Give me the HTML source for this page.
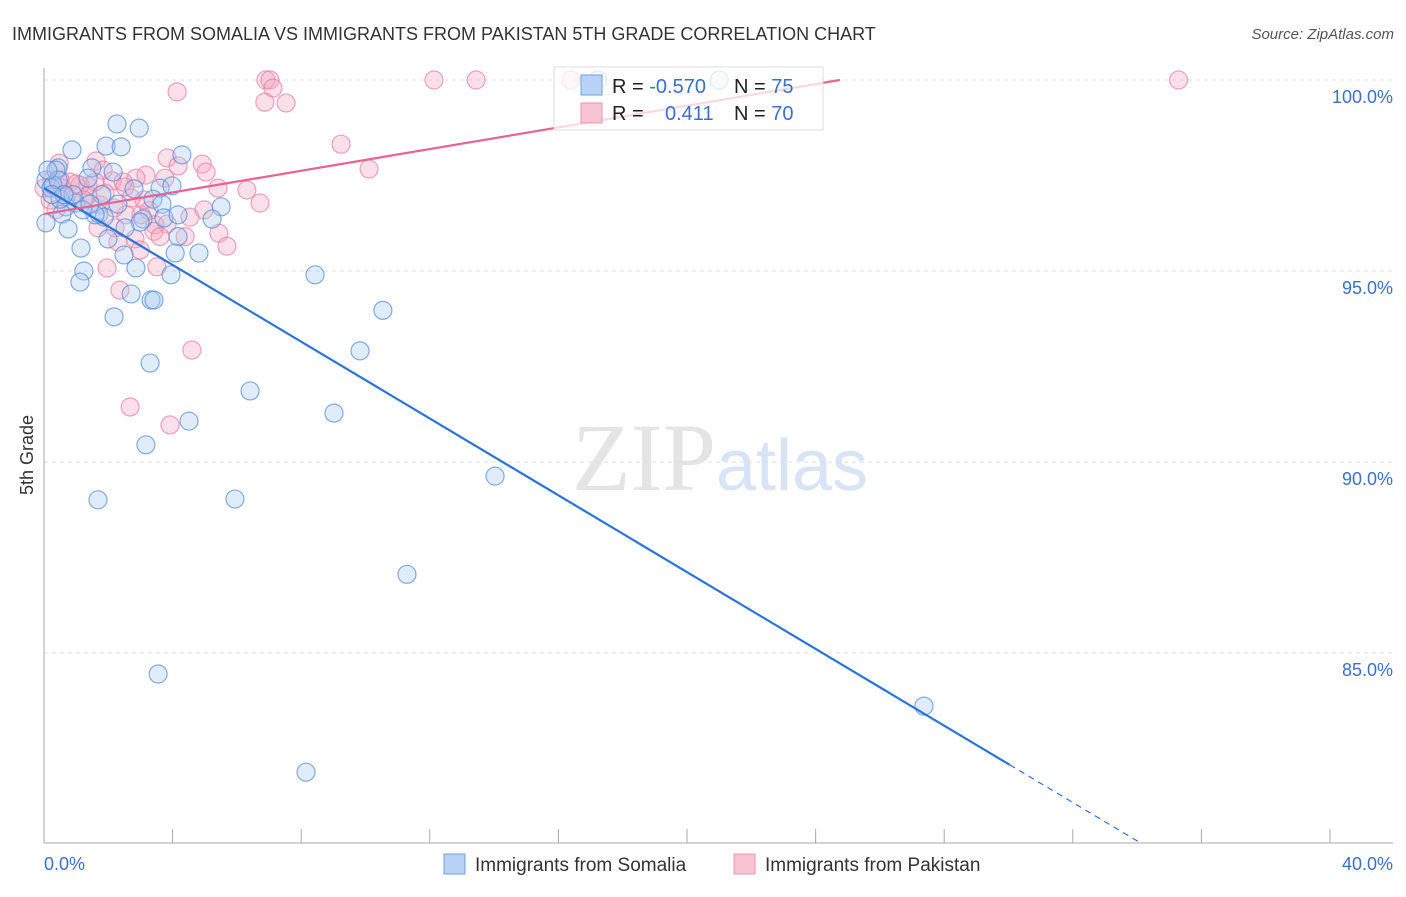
<!DOCTYPE html>
<html><head><meta charset="utf-8"><style>
body{margin:0;background:#fff;width:1406px;height:892px;overflow:hidden;font-family:"Liberation Sans",sans-serif}
</style></head><body>
<svg id="chart" width="1406" height="892" xmlns="http://www.w3.org/2000/svg" font-family="Liberation Sans, sans-serif">
<text x="12" y="40" font-size="18" fill="#333">IMMIGRANTS FROM SOMALIA VS IMMIGRANTS FROM PAKISTAN 5TH GRADE CORRELATION CHART</text>
<text x="1394" y="39" font-size="15" font-style="italic" fill="#555" text-anchor="end">Source: ZipAtlas.com</text>
<text x="720" y="490" font-size="96" text-anchor="middle" font-family="Liberation Serif, serif" fill="#e4e4e4">ZIP<tspan fill="#d6e4f5" font-family="Liberation Sans, sans-serif" font-size="72">atlas</tspan></text>
<g id="grid"></g>
<g id="axes"></g>
<g id="pts"></g>
<g id="trends"></g>
<text transform="translate(33,455) rotate(-90)" font-size="18" fill="#333" text-anchor="middle">5th Grade</text>
<text x="44" y="870" font-size="18" fill="#3a6fd0">0.0%</text>
<text x="1393" y="870" font-size="18" fill="#3a6fd0" text-anchor="end">40.0%</text>
<g>
<rect x="554" y="67" width="269" height="63" fill="#fff" fill-opacity="0.75" stroke="#ddd"/>
<rect x="581" y="75" width="21" height="20" fill="#b8d3f5" stroke="#6a9fe0"/>
<rect x="581" y="103" width="21" height="20" fill="#f9c4d4" stroke="#ec93b0"/>
<text x="612" y="93" font-size="20" fill="#222">R = <tspan fill="#3a6fd0">-0.570</tspan></text>
<text x="734" y="93" font-size="20" fill="#222">N = <tspan fill="#3a6fd0">75</tspan></text>
<text x="612" y="120" font-size="20" fill="#222">R = <tspan fill="#3a6fd0" x="665">0.411</tspan></text>
<text x="734" y="120" font-size="20" fill="#222">N = <tspan fill="#3a6fd0">70</tspan></text>
</g>
<g>
<rect x="444" y="854" width="21" height="20" fill="#b8d3f5" stroke="#6a9fe0"/>
<text x="475" y="871" font-size="19" fill="#333">Immigrants from Somalia</text>
<rect x="734" y="854" width="21" height="20" fill="#f9c4d4" stroke="#ec93b0"/>
<text x="765" y="871" font-size="19" fill="#333">Immigrants from Pakistan</text>
</g>
</svg>
<script>
const yTicks=[100,95,90,85];
const yTickLabels=["100.0%","95.0%","90.0%","85.0%"];
const xTicks=[0,4,8,12,16,20,24,28,32,36,40];
const somaliaX=[17.22,21.0,2.27,2.96,0.87,1.93,2.4,4.29,1.49,2.15,0.44,0.06,1.37,3.61,2.8,0.22,3.98,3.39,2.3,3.67,1.71,0.99,0.68,5.51,5.23,1.87,3.08,3.73,4.17,0.56,0.75,0.06,1.99,4.17,1.15,2.49,4.08,4.82,1.24,2.86,3.95,8.43,1.12,2.71,3.33,3.42,10.54,2.18,3.3,9.83,6.41,9.02,4.51,3.17,1.68,5.94,14.03,11.29,3.55,27.37,8.15,0.37,0.28,0.5,2.99,2.52,1.59,1.8,1.21,0.9,1.43,0.44,0.12,0.62,0.25];
const somaliaY=[100,100,98.85,98.74,98.17,98.27,98.25,98.04,97.7,97.59,97.7,97.38,97.43,97.17,97.15,97.17,97.23,96.88,96.75,96.75,96.49,96.78,96.68,96.68,96.36,96.41,96.36,96.39,96.47,96.49,96.1,96.26,95.84,95.9,95.6,95.42,95.47,95.47,95.0,95.08,94.9,94.9,94.71,94.4,94.24,94.24,93.97,93.8,92.59,92.91,91.86,91.28,91.07,90.45,89.01,89.03,89.63,87.06,84.45,83.61,81.88,97.64,97.25,96.88,96.28,96.13,96.47,97.0,96.6,97.0,96.75,97.38,97.64,97.0,97.0];
const pakistanX=[6.9,7.03,12.13,13.44,16.39,35.29,7.12,6.87,7.53,4.14,9.24,10.11,3.83,4.92,4.17,5.04,3.17,0.47,1.62,0.81,1.37,2.12,2.86,3.76,5.41,6.31,6.72,1.84,2.52,0.19,0,1.12,0.68,1.74,2.55,3.02,3.45,3.83,4.54,5.44,5.69,3.42,2.83,2.3,1.96,3.51,2.36,4.6,2.68,3.92,1.37,0.37,0.56,2.18,3.27,3.61,2.99,1.68,0.99,0.25,1.24,3.11,2.46,4.39,4.98,1.9,1.59,2.21,2.71,0.5];
const pakistanY=[100,100,100,100,100,100,99.79,99.42,99.4,99.69,98.32,97.67,97.96,97.8,97.75,97.59,97.51,97.82,97.88,97.33,97.23,97.36,97.43,97.43,97.17,97.12,96.78,97.64,97.2,96.86,97.17,97.25,96.96,96.73,96.47,96.47,96.21,96.23,96.41,95.99,95.65,96.04,95.84,95.76,95.08,95.11,94.5,92.93,91.44,90.97,96.99,96.6,97.17,96.65,96.58,95.9,95.55,96.13,97.28,97.38,96.86,96.86,97.33,95.9,96.6,97.04,97.33,96.13,96.91,97.38];
const X=v=>44+v/4*128.6, Y=v=>80+(100-v)*38.2;
const NS="http://www.w3.org/2000/svg";
function mk(tag,attrs,parent){const e=document.createElementNS(NS,tag);for(const k in attrs)e.setAttribute(k,attrs[k]);document.getElementById(parent).appendChild(e);return e;}
yTicks.forEach((t,i)=>{
 const l=mk('line',{x1:44,x2:1393,y1:Y(t),y2:Y(t),stroke:'#ddd','stroke-dasharray':'4,4'},'grid');
 
 
 const tx=mk('text',{x:1393,y:Y(t)+23,'font-size':18,fill:'#3a6fd0','text-anchor':'end'},'grid');
 tx.textContent=yTickLabels[i];
 
 
});
const ax=mk('line',{x1:44,x2:44,y1:68,y2:843,stroke:'#aaa'},'axes');


const bx=mk('line',{x1:44,x2:1393,y1:843,y2:843,stroke:'#aaa'},'axes');


xTicks.forEach(t=>{
 const l=mk('line',{x1:X(t),x2:X(t),y1:829,y2:843,stroke:'#aaa'},'axes');
 
 
});
function pts(xs,ys,fill,stroke,name){
 xs.forEach((x,i)=>{
  const c=mk('circle',{cx:X(x),cy:Y(ys[i]),r:9,fill:fill,'fill-opacity':0.35,stroke:stroke,'stroke-opacity':0.7,'stroke-width':1.2},'pts');
  
  
 });
}
pts(pakistanX,pakistanY,'#f4a6bf','#e97aa0','pakistan-point');
pts(somaliaX,somaliaY,'#a9c9f2','#4f8ad8','somalia-point');
function fit(xs,ys){const n=xs.length;let mx=0,my=0;xs.forEach((x,i)=>{mx+=x;my+=ys[i]});mx/=n;my/=n;let sxy=0,sxx=0;xs.forEach((x,i)=>{sxy+=(x-mx)*(ys[i]-my);sxx+=(x-mx)*(x-mx)});const b=sxy/sxx;return [my-b*mx,b];}
// blue trend
const [ba,bb]=[97.17,-0.5026];
let l1=mk('line',{x1:X(0),y1:Y(ba),x2:X(30.04),y2:Y(ba+bb*30.04),stroke:'#2a74d8','stroke-width':2.2},'trends');


const xEnd=(80.03-ba)/bb;
let l2=mk('line',{x1:X(30.04),y1:Y(ba+bb*30.04),x2:X(xEnd),y2:Y(ba+bb*xEnd),stroke:'#2a74d8','stroke-width':1.2,'stroke-dasharray':'6,5'},'trends');


const [pa,pb]=[96.49,0.1418];
const pEnd=(100-pa)/pb;
let l3=mk('line',{x1:X(0),y1:Y(pa),x2:X(pEnd),y2:Y(100),stroke:'#e8648e','stroke-width':2.2},'trends');


</script>
</body></html>
